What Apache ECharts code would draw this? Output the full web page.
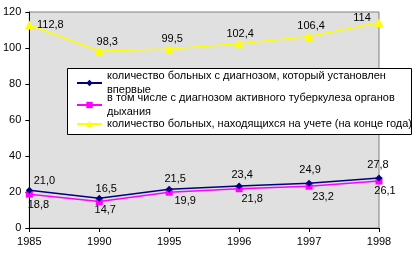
<!DOCTYPE html>
<html><head><meta charset="utf-8">
<script src="https://cdn.jsdelivr.net/npm/echarts@6/dist/echarts.min.js"></script>
<style>html,body{margin:0;padding:0;background:#fff}#c{width:417px;height:256px}</style>
</head><body><div id="c"></div>
<script>
var years = ['1985','1990','1995','1996','1997','1998'];
var seriesNames = [
  'количество больных с диагнозом, который установлен впервые',
  'в том числе с диагнозом активного туберкулеза органов дыхания',
  'количество больных, находящихся на учете (на конце года)'
];
var legendLines = [
  'количество больных с диагнозом, который установлен\nвпервые',
  'в том числе с диагнозом активного туберкулеза органов\nдыхания',
  'количество больных, находящихся на учете (на конце года)'
];
var newCases = [21.0, 16.5, 21.5, 23.4, 24.9, 27.8];
var activeResp = [18.8, 14.7, 19.9, 21.8, 23.2, 26.1];
var registered = [112.8, 98.3, 99.5, 102.4, 106.4, 114];

// label placement (pixel offsets from each point)
var offs = [
  [[15,-9],[7,-9],[6,-10],[3,-11],[1,-13],[-1,-13]],
  [[9,11],[6,8],[16,9],[13,10],[14,11],[6,10]],
  [[21,0],[8,-9],[3,-10],[1,-10],[2,-11],[-17,-5]]
];
var FONT = 'Liberation Sans, Arial, sans-serif';
function fmt1(v){ return v.toFixed(1).replace('.', ','); }
function fmtG(v){ return String(v).replace('.', ','); }
function mk(vals, si, f){
  return vals.map(function(v,i){
    return {value: v, label: {offset: offs[si][i], formatter: f(v)}};
  });
}
var colors = ['#000080', '#ff00ff', '#ffff00'];
var symbols = ['diamond', 'rect', 'triangle'];
var symSizes = [7, 7, 9];
var dataSets = [mk(newCases,0,fmt1), mk(activeResp,1,fmt1), mk(registered,2,fmtG)];

var series = dataSets.map(function(d, si){
  return {
    name: seriesNames[si], type: 'line', data: d, z: 3 - si + 2,
    symbol: symbols[si], symbolSize: symSizes[si],
    lineStyle: {color: colors[si], width: 1.5},
    itemStyle: {color: colors[si]},
    label: {show: true, position: 'inside', color: '#000', fontFamily: FONT, fontSize: 11}
  };
});

var legendTops = [62, 84, 117];
var legends = seriesNames.map(function(n, i){
  var multi = legendLines[i].indexOf('\n') >= 0;
  return {
    data: [n], left: 76, top: legendTops[i], orient: 'vertical', padding: 0,
    itemWidth: 25, itemHeight: 8, selectedMode: false, z: 20,
    formatter: function(){ return legendLines[i]; },
    textStyle: {fontFamily: FONT, fontSize: 11, color: '#000', lineHeight: 14,
      padding: multi ? [14, 0, 0, 0] : 0}
  };
});

var chart = echarts.init(document.getElementById('c'));
chart.setOption({
  animation: false,
  grid: {left: 29, right: 38, top: 12, bottom: 28, show: true,
    backgroundColor: '#e0e0e0', borderColor: '#808080', borderWidth: 1},
  xAxis: {type: 'category', data: years, boundaryGap: false,
    axisLine: {lineStyle: {color: '#000', width: 1}},
    axisTick: {show: true, length: 4, alignWithLabel: true, lineStyle: {color: '#000'}},
    axisLabel: {color: '#000', fontFamily: FONT, fontSize: 11, margin: 8},
    splitLine: {show: false}},
  yAxis: {type: 'value', min: 0, max: 120, interval: 20,
    axisLine: {show: true, lineStyle: {color: '#000', width: 1}},
    axisTick: {show: true, length: 4, lineStyle: {color: '#000'}},
    axisLabel: {color: '#000', fontFamily: FONT, fontSize: 11, margin: 8},
    splitLine: {show: false}},
  legend: legends,
  graphic: [{type: 'rect', shape: {x: 67.5, y: 68.5, width: 344, height: 66},
    style: {fill: '#fff', stroke: '#000', lineWidth: 1}, z: 10}],
  series: series
});
</script></body></html>
